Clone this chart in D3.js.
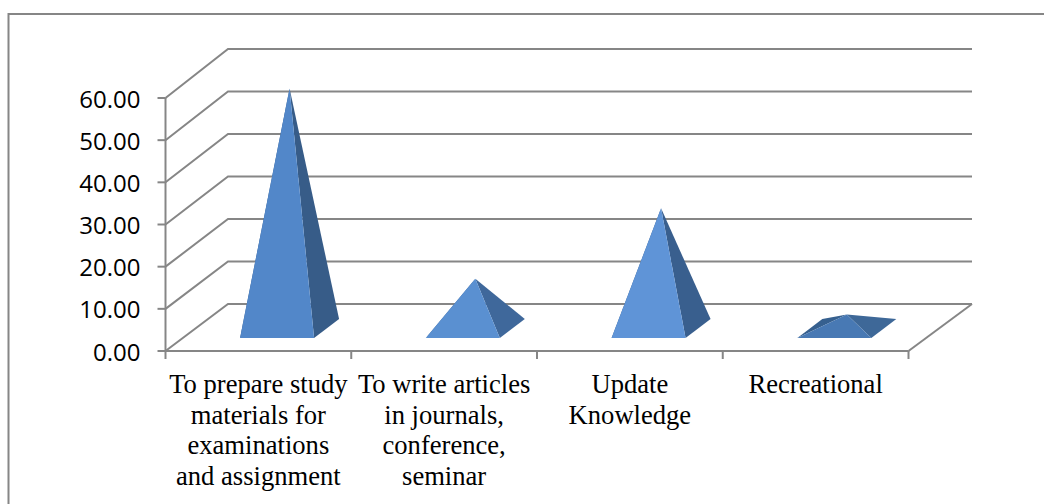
<!DOCTYPE html>
<html><head><meta charset="utf-8">
<script src="https://cdn.jsdelivr.net/npm/d3@7"></script>
<style>html,body{margin:0;padding:0;background:#fff;overflow:hidden}svg{display:block}</style>
</head><body><svg id="c" width="1044" height="504"></svg>
<script>
const categories = ["To prepare study materials for examinations and assignment","To write articles in journals, conference, seminar","Update Knowledge","Recreational"];
const categoryLines = [["To prepare study","materials for","examinations","and assignment"],["To write articles","in journals,","conference,","seminar"],["Update","Knowledge"],["Recreational"]];
const values = [56.9,11.8,28.5,3.3];
const yTicks = [0,10,20,30,40,50,60];
const frontColors = ["#5287c9","#5a90d1","#5f94d7","#4879b4"];
const sideColors = ["#375c88","#3f689b","#395f8e","#3e6898"];
const leftColors = ["#375c88","#3f689b","#395f8e","#36608f"];

const svg = d3.select("#c");
const axisColor = "#868686";
const depthX = 62.5, depthY = 47;
const x = d3.scaleBand().domain(categories).range([165.5,908.5]);
const y = d3.scaleLinear().domain([0,60]).range([351,98]);
const yBack = d3.scaleLinear().domain([0,60]).range([304,49]);

svg.append("path").attr("d",d3.line()([[8.5,504],[8.5,14],[1044,14]]))
  .attr("fill","none").attr("stroke",axisColor).attr("stroke-width",2);

const grid = svg.append("g").attr("fill","none").attr("stroke",axisColor).attr("stroke-width",2);
yTicks.forEach(t=>{
  grid.append("path").attr("d",d3.line()([[x.range()[0],y(t)],[x.range()[0]+depthX,yBack(t)],[x.range()[1]+depthX+1,yBack(t)]]));
});
grid.append("path").attr("d",d3.line()([[x.range()[1],y(0)],[x.range()[1]+depthX+1,yBack(0)]]));

// front axes
const ax = svg.append("g").attr("stroke",axisColor).attr("stroke-width",2).attr("fill","none");
ax.append("line").attr("x1",x.range()[0]).attr("x2",x.range()[0]).attr("y1",y(60)).attr("y2",y(0));
ax.append("line").attr("x1",x.range()[0]).attr("x2",x.range()[1]).attr("y1",y(0)).attr("y2",y(0));
yTicks.forEach(t=>ax.append("line").attr("x1",x.range()[0]-8).attr("x2",x.range()[0]).attr("y1",y(t)).attr("y2",y(t)));
[...categories.map(c=>x(c)),x.range()[1]].forEach(v=>ax.append("line").attr("x1",v).attr("x2",v).attr("y1",y(0)).attr("y2",y(0)+8));

svg.append("g").selectAll("text").data(yTicks).join("text")
  .attr("x",140.5).attr("y",t=>y(t)+9.5).attr("text-anchor","end")
  .attr("font-family","'Open Sans'").attr("font-size",24).attr("fill","#000")
  .text(t=>t.toFixed(2));

// pyramids
const halfW = 37, shift = 18.7, baseY = 338, bDX = 25, bDY = 19;
const k = (y(0)-y(60))/60;
const pyr = svg.append("g");
categories.forEach((c,i)=>{
  const cx = x(c)+x.bandwidth()/2+shift;
  const FL=[cx-halfW,baseY],FR=[cx+halfW,baseY],BR=[FR[0]+bDX,baseY-bDY],BL=[FL[0]+bDX,baseY-bDY];
  const apex=[cx+bDX/2,baseY-bDY/2-values[i]*k];
  const poly=(pts,col)=>pyr.append("polygon").attr("points",pts.join(" ")).attr("fill",col);
  poly([apex,FL,BL],leftColors[i]);
  poly([apex,FR,BR],sideColors[i]);
  poly([apex,FL,FR],frontColors[i]);
});

// category labels
const lab = svg.append("g").attr("font-family","'Liberation Serif'").attr("font-size",26.6).attr("fill","#000").attr("text-anchor","middle");
categories.forEach((c,i)=>{
  categoryLines[i].forEach((l,j)=>{
    lab.append("text").attr("x",x(c)+x.bandwidth()/2).attr("y",393+j*30.5).text(l);
  });
});
</script></body></html>
